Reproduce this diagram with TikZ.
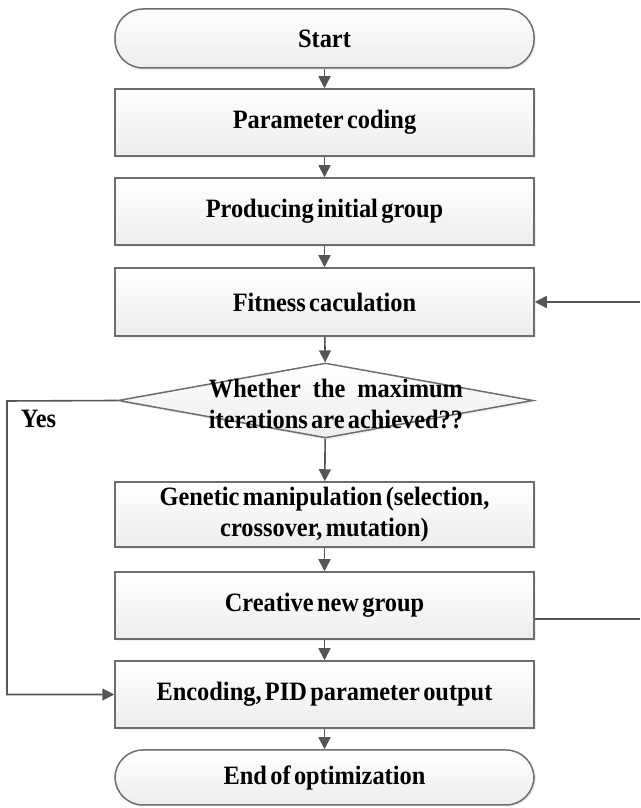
\documentclass[tikz,border=0pt]{standalone}
\usepackage{fontspec}
\usepackage{calc}
\setmainfont{Liberation Serif}[FakeStretch=0.92, WordSpace=0.55]
\usetikzlibrary{arrows.meta,shapes.geometric,shadows}
\definecolor{bordergray}{HTML}{6E6E6E}
\definecolor{arrowgray}{HTML}{555555}
\tikzset{
  boxbase/.style={draw=bordergray, line width=1.5pt, top color=white, bottom color=gray!14,
    drop shadow={opacity=0.12, shadow xshift=2pt, shadow yshift=-2pt},
    font=\fontsize{26.5}{31}\selectfont\bfseries, align=center, inner sep=0pt},
  procbox/.style={boxbase, rectangle, minimum width=419pt},
  termbox/.style={boxbase, rectangle, rounded corners=28pt, minimum width=419pt},
  decbox/.style={boxbase, diamond, minimum width=415pt, minimum height=75pt},
  flow/.style={draw=arrowgray, line width=1.6pt, -{Triangle[length=12pt,width=12pt]}},
  plainline/.style={draw=arrowgray, line width=1.6pt},
  lbl/.style={font=\fontsize{26.5}{31.5}\selectfont\bfseries, inner sep=0pt}
}
\begin{document}
\begin{tikzpicture}[x=1pt,y=1pt]
\useasboundingbox (0,0) rectangle (640,808);
\node[termbox, minimum height=59pt] (start) at (324.5,769.5) {Start};
\node[procbox, minimum height=67pt] (param) at (324.5,685.5) {Parameter coding};
\node[procbox, minimum height=67pt] (prod) at (324.5,596.5) {Producing initial group};
\node[procbox, minimum height=68pt] (fit) at (324.5,506) {Fitness caculation};
\node[decbox] (dec) at (325.5,407.5) {};
\node[lbl, align=center] (dectext) at (336,404) {\makebox[\widthof{iterations are achieved??}][s]{Whether the maximum}\\iterations are achieved??};
\node[procbox, minimum height=65pt] (gen) at (324.5,293.5) {Genetic manipulation (selection,\\crossover, mutation)};
\node[procbox, minimum height=67pt] (cre) at (324.5,202.5) {Creative new group};
\node[procbox, minimum height=67pt] (enc) at (324.5,113.5) {Encoding, PID parameter output};
\node[termbox, minimum height=55pt] (fin) at (324.5,30.5) {End of optimization};
\node[lbl] (yes) at (38.5,389) {Yes};
\coordinate (rtop) at (640,506);
\coordinate (rbot) at (640,189);
\coordinate (lt) at (7,407);
\coordinate (lb) at (7,113.5);
\draw[flow] (start) -- (param);
\draw[flow] (param) -- (prod);
\draw[flow] (prod) -- (fit);
\draw[flow] (fit) -- (dec);
\draw[flow] (dec) -- (gen);
\draw[flow] (gen) -- (cre);
\draw[flow] (cre) -- (enc);
\draw[flow] (enc) -- (fin);
\draw[flow] (rtop) -- (fit.east);
\draw[plainline] ([yshift=-13.5pt]cre.east) -- (rbot);
\draw[flow] (dec.west) -- (lt) -- (lb) -- (enc.west);
\end{tikzpicture}
\end{document}
